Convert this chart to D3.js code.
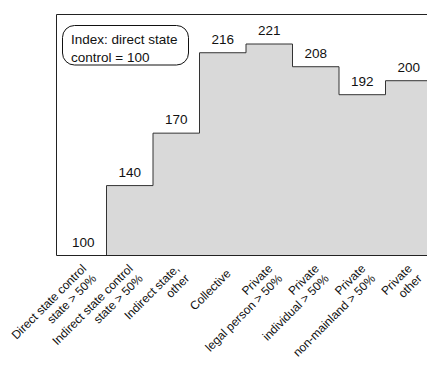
<!DOCTYPE html>
<html>
<head>
<meta charset="utf-8">
<script src="https://cdn.jsdelivr.net/npm/d3@7"></script>
<style>
  html, body { margin: 0; padding: 0; background: #fff; }
  svg { display: block; font-family: "Liberation Sans", Arial, sans-serif; }
</style>
</head>
<body>
<svg id="chart" width="427" height="365"></svg>
<script>
// ---- data ----
const categories = [
  ["Direct state control", "state > 50%"],
  ["Indirect state control", "state > 50%"],
  ["Indirect state,", "other"],
  ["Collective"],
  ["Private", "legal person > 50%"],
  ["Private", "individual > 50%"],
  ["Private", "non-mainland > 50%"],
  ["Private", "other"]
];
const values = [100, 140, 170, 216, 221, 208, 192, 200];
const legendLines = ["Index: direct state", "control = 100"];

// ---- layout ----
const svg = d3.select("#chart");
const frame = { left: 56.5, top: 14.5, bottom: 255.5, right: 445 };
const keys = categories.map((c, i) => i);

const x = d3.scaleBand().domain(keys).range([60, 60 + 8 * 46.5]).padding(0);
const y = d3.scaleLinear().domain([100, 221]).range([frame.bottom, 44]);

// area (step)
const pts = values.map((v, i) => ({ x: x(i), v }));
pts.push({ x: x(keys.length - 1) + x.bandwidth(), v: values[values.length - 1] });

const area = d3.area()
  .x(d => d.x).y0(y(100)).y1(d => y(d.v))
  .curve(d3.curveStepAfter);
const line = d3.line()
  .x(d => d.x).y(d => y(d.v))
  .curve(d3.curveStepAfter);

svg.append("path").datum(pts).attr("d", area).attr("fill", "#d9d9d9");
svg.append("path").datum(pts).attr("d", line)
  .attr("fill", "none").attr("stroke", "#333").attr("stroke-width", 1);

// frame
svg.append("path")
  .attr("d", `M${frame.right},${frame.top}H${frame.left}V${frame.bottom}H${frame.right}`)
  .attr("fill", "none").attr("stroke", "#222").attr("stroke-width", 1);

// value labels
svg.append("g").selectAll("text").data(values).join("text")
  .attr("x", (d, i) => x(i) + x.bandwidth() / 2)
  .attr("y", d => y(d) - 9)
  .attr("text-anchor", "middle")
  .attr("font-size", "13.5px")
  .attr("fill", "#111")
  .text(d => d);

// x axis labels
const axis = d3.axisBottom(x).tickSize(0).tickFormat(() => "");
const gx = svg.append("g").attr("transform", `translate(0,${frame.bottom})`).call(axis);
gx.select(".domain").remove();
const lh = 14;
gx.selectAll(".tick").each(function (d) {
  const lines = categories[d];
  const t = d3.select(this).append("text")
    .attr("transform", `translate(6,16) rotate(-45)`)
    .attr("text-anchor", "end")
    .attr("font-size", "12px")
    .attr("fill", "#111");
  const off = -(lines.length - 1) * lh / 2;
  lines.forEach((s, k) => {
    t.append("tspan").attr("x", 0).attr("y", off + k * lh + 4).text(s);
  });
});

// legend
const lg = svg.append("g");
lg.append("rect")
  .attr("x", 62.5).attr("y", 25.5).attr("width", 126).attr("height", 39.5)
  .attr("rx", 12).attr("ry", 12)
  .attr("fill", "#fff").attr("stroke", "#111").attr("stroke-width", 1);
lg.selectAll("text").data(legendLines).join("text")
  .attr("x", 71).attr("y", (d, i) => 44 + i * 17.5)
  .attr("font-size", "13.5px").attr("fill", "#111")
  .text(d => d);
</script>
</body>
</html>
